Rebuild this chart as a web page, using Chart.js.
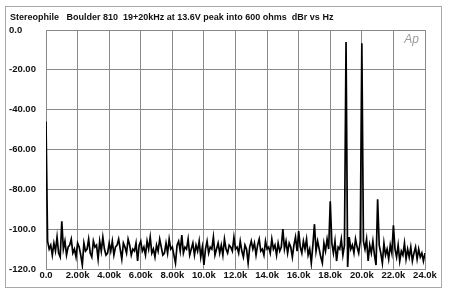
<!DOCTYPE html>
<html>
<head>
<meta charset="utf-8">
<script src="https://cdn.jsdelivr.net/npm/chart.js@4.4.0/dist/chart.umd.min.js"></script>
<style>
  body { margin: 0; background: #fff; }
  canvas { display: block; }
</style>
</head>
<body>
<canvas id="fftChart" width="450" height="295"></canvas>
<script>
// spectrum, one value every 100 Hz from 0 to 24 kHz (dBr)
const freqStep = 100;
const levels = [
  -46,
  -106, -110, -108, -113, -107, -111, -104, -112, -114, -96,
  -110, -106, -113, -109, -108, -105, -112, -110, -114, -107,
  -109, -113, -118, -107, -111, -110, -105, -112, -114, -106,
  -109, -108, -115, -106, -111, -104, -110, -113, -112, -107,
  -111, -106, -113, -109, -108, -105, -110, -115, -107, -109,
  -112, -105, -108, -113, -110, -111, -107, -116, -108, -106,
  -111, -109, -113, -106, -110, -104, -112, -110, -114, -108,
  -111, -105, -109, -113, -112, -107, -112, -105, -110, -109,
  -113, -117, -108, -106, -111, -103, -112, -109, -110, -105,
  -113, -110, -107, -113, -108, -111, -106, -114, -109, -118,
  -110, -106, -112, -109, -110, -104, -113, -110, -107, -112,
  -108, -113, -105, -110, -112, -108, -109, -111, -104, -110,
  -109, -112, -106, -111, -114, -108, -110, -117, -109, -106,
  -110, -107, -113, -108, -105, -111, -110, -113, -106, -110,
  -109, -112, -105, -110, -108, -113, -107, -111, -109, -100,
  -110, -106, -112, -107, -109, -114, -108, -104, -111, -101,
  -109, -112, -106, -110, -105, -113, -110, -117, -108, -97.5,
  -111, -106, -110, -114, -117, -107, -111, -105, -110, -86,
  -107, -112, -106, -116, -109, -110, -105, -113, -108, -6,
  -119, -104, -110, -108, -112, -105, -109, -112, -106, -6.7,
  -106, -110, -105, -116, -108, -112, -106, -113, -118, -85,
  -108, -112, -117, -107, -113, -110, -115, -108, -112, -98,
  -110, -114, -108, -116, -111, -113, -107, -115, -110, -114,
  -109, -116, -112, -109, -115, -110, -114, -112, -116, -112
];

const xTicks = [0, 2000, 4000, 6000, 8000, 10000, 12000, 14000, 16000, 18000, 20000, 22000, 24000];
const xTickLabels = ["0.0", "2.00k", "4.00k", "6.00k", "8.00k", "10.0k", "12.0k", "14.0k", "16.0k", "18.0k", "20.0k", "22.0k", "24.0k"];
const yTicks = [-120, -100, -80, -60, -40, -20, 0];
const yTickLabels = ["-120.0", "-100.0", "-80.00", "-60.00", "-40.00", "-20.00", "0.0"];

const title = "Stereophile   Boulder 810  19+20kHz at 13.6V peak into 600 ohms  dBr vs Hz";

const points = levels.map((v, i) => ({ x: i * freqStep, y: v }));

const gridGrey = "#8a8a8a";

const decor = {
  id: "decor",
  beforeDraw(chart) {
    const ctx = chart.ctx;
    ctx.save();
    ctx.fillStyle = "#fff";
    ctx.fillRect(0, 0, chart.width, chart.height);
    ctx.strokeStyle = "#a8a8a8";
    ctx.lineWidth = 1;
    ctx.strokeRect(5.5, 6.5, 436, 281);
    ctx.fillStyle = "#111";
    ctx.font = "bold 9px Arial, 'Liberation Sans', sans-serif";
    ctx.textBaseline = "alphabetic";
    ctx.fillText(title, 10, 20);
    ctx.restore();
  },
  afterDatasetsDraw(chart) {
    const ctx = chart.ctx;
    const a = chart.chartArea;
    ctx.save();
    ctx.fillStyle = "#9a9a9a";
    ctx.font = "italic 12px Arial, 'Liberation Sans', sans-serif";
    ctx.textAlign = "right";
    ctx.fillText("Ap", a.right - 6, a.top + 13);
    ctx.restore();
  }
};

new Chart(document.getElementById("fftChart"), {
  type: "line",
  data: {
    datasets: [{
      data: points,
      borderColor: "#000",
      borderWidth: 1.7,
      pointRadius: 0,
      fill: false,
      tension: 0
    }]
  },
  options: {
    responsive: false,
    animation: false,
    devicePixelRatio: 1,
    layout: { padding: { left: 9, top: 30, right: 25, bottom: 8 } },
    plugins: {
      legend: { display: false },
      tooltip: { enabled: false },
      title: { display: false }
    },
    scales: {
      x: {
        type: "linear",
        min: 0,
        max: 24000,
        afterBuildTicks(scale) {
          scale.ticks = xTicks.map(v => ({ value: v }));
        },
        afterFit(scale) { scale.height = 18; },
        grid: { color: gridGrey, drawTicks: false, lineWidth: 1 },
        border: { color: gridGrey },
        ticks: {
          autoSkip: false,
          maxRotation: 0,
          padding: 1,
          color: "#111",
          font: { family: "Arial, 'Liberation Sans', sans-serif", size: 9.5, weight: "bold" },
          callback: (v) => xTickLabels[xTicks.indexOf(v)]
        }
      },
      y: {
        min: -120,
        max: 0,
        afterBuildTicks(scale) {
          scale.ticks = yTicks.map(v => ({ value: v }));
        },
        afterFit(scale) { scale.width = 37; },
        grid: { color: gridGrey, drawTicks: false, lineWidth: 1 },
        border: { color: gridGrey },
        ticks: {
          crossAlign: "far",
          padding: 0,
          color: "#111",
          font: { family: "Arial, 'Liberation Sans', sans-serif", size: 9.5, weight: "bold" },
          callback: (v) => yTickLabels[yTicks.indexOf(v)]
        }
      }
    }
  },
  plugins: [decor]
});
</script>
</body>
</html>
